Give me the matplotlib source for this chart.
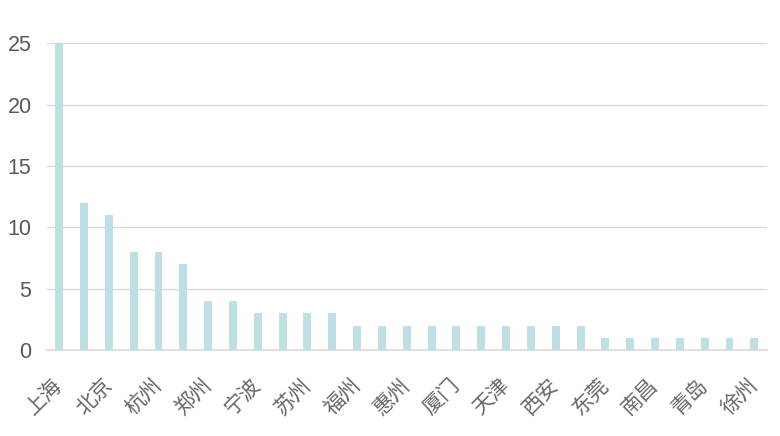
import matplotlib
matplotlib.use("Agg")
import matplotlib.pyplot as plt
import numpy as np

plt.rcParams['font.family'] = ['Noto Sans CJK SC', 'DejaVu Sans']

# 数据：每两根柱子标注一个城市
values = [25, 12, 11, 8, 8, 7, 4, 4, 3, 3, 3, 3,
          2, 2, 2, 2, 2, 2, 2, 2, 2, 2,
          1, 1, 1, 1, 1, 1, 1]
labels = ['上海', '北京', '杭州', '郑州', '宁波', '苏州', '福州', '惠州',
          '厦门', '天津', '西安', '东莞', '南昌', '青岛', '徐州']
yticks = [0, 5, 10, 15, 20, 25]

bar_color = '#bde0e4'
grid_color = '#d9d9d9'
text_color = '#595959'

fig = plt.figure(figsize=(7.8, 4.36), dpi=100)
ax = fig.add_axes([0.060, 0.197, 0.923, 0.704])

x = np.arange(len(values))
ax.bar(x, values, width=0.32, color=bar_color, zorder=3)

ax.set_xlim(-0.5, len(values) - 0.5)
ax.set_ylim(0, 25)
ax.set_yticks(yticks)
ax.set_yticklabels([str(v) for v in yticks], family='Liberation Sans')
ax.yaxis.grid(True, color=grid_color, linewidth=1, zorder=0)
ax.set_axisbelow(True)

ax.set_xticks(x[::2])
ax.set_xticklabels(labels, rotation=45, ha='right', va='center',
                   rotation_mode='anchor', fontsize=15, color='#666666')
ax.tick_params(axis='x', length=0, pad=23)
ax.tick_params(axis='y', length=0, pad=11, labelsize=15.5, labelcolor=text_color)

for s in ['top', 'right', 'left']:
    ax.spines[s].set_visible(False)
ax.spines['bottom'].set_color(grid_color)
ax.spines['bottom'].set_linewidth(1.2)

plt.savefig('out.png', dpi=100)
plt.close()
